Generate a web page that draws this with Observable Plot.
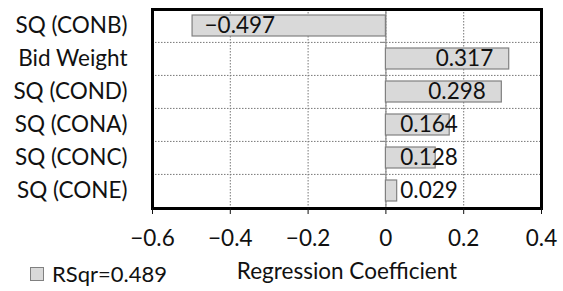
<!DOCTYPE html>
<html>
<head>
<meta charset="utf-8">
<script src="https://cdn.jsdelivr.net/npm/d3@7"></script>
<script src="https://cdn.jsdelivr.net/npm/@observablehq/plot@0.6"></script>
<style>
  html, body { margin: 0; padding: 0; background: #fff; }
  #wrap { position: relative; width: 563px; height: 291px; font-family: Lato, sans-serif; }
  #legend { position: absolute; left: 30px; top: 262px; font-size: 22px; line-height: 24px; display: flex; align-items: center; color: #111; }
  #legend .sw { width: 12px; height: 12px; background: #d9d9d9; border: 1px solid #808080; margin-right: 8px; }
</style>
</head>
<body>
<div id="wrap"></div>
<script>
const categories = ["SQ (CONB)", "Bid Weight", "SQ (COND)", "SQ (CONA)", "SQ (CONC)", "SQ (CONE)"];
const coefficients = [-0.497, 0.317, 0.298, 0.164, 0.128, 0.029];
const xTicks = [-0.6, -0.4, -0.2, 0, 0.2, 0.4];
const xLabel = "Regression Coefficient";
const legendLabel = "RSqr=0.489";

const data = categories.map((c, i) => ({category: c, value: coefficients[i]}));
const fmt = v => (v < 0 ? "\u2212" : "") + Math.abs(v).toFixed(3);
const rowStep = (208 - 9) / categories.length;

const chart = Plot.plot({
  width: 563,
  height: 291,
  marginLeft: 152,
  marginRight: 22,
  marginTop: 9,
  marginBottom: 83,
  style: {fontFamily: "Lato, sans-serif", fontSize: "22.5px", color: "#111"},
  x: {domain: [-0.6, 0.4], ticks: xTicks},
  y: {domain: categories, paddingInner: 0.36, paddingOuter: 0.18},
  marks: [
    Plot.gridX(xTicks, {stroke: "#777", strokeOpacity: 1, strokeDasharray: "1.5,1.5", strokeWidth: 1}),
    Plot.gridY(categories, {dy: -rowStep / 2, stroke: "#777", strokeOpacity: 1, strokeDasharray: "1.5,1.5", strokeWidth: 1}),
    Plot.ruleX([0], {stroke: "#8c8c8c", strokeWidth: 1.2}),
    Plot.ruleY(categories, {y: d => d, x1: 0, x2: -0.014, dy: -rowStep / 2, stroke: "#8c8c8c", strokeWidth: 1.2}),
    Plot.barX(data, {y: "category", x: "value", fill: "#d9d9d9", stroke: "#808080", strokeWidth: 1.2}),
    Plot.text(data.filter(d => d.value < 0), {y: "category", x: "value", text: d => fmt(d.value), textAnchor: "start", dx: 12, fill: "#111"}),
    Plot.text(data.filter(d => d.value >= 0), {y: "category", x: d => Math.max(d.value, 0.226), text: d => fmt(d.value), textAnchor: "end", dx: -16, fill: "#111"}),
    Plot.frame({stroke: "#000", strokeWidth: 3}),
    Plot.axisY({tickSize: 0, tickPadding: 25, label: null}),
    Plot.axisX({ticks: xTicks, tickSize: 6, tickPadding: 16, tickFormat: d => d === 0 ? "0" : (d < 0 ? "\u2212" : "") + Math.abs(d).toFixed(1), label: xLabel, labelAnchor: "center", labelArrow: "none", labelOffset: 70})
  ]
});
const wrap = document.getElementById("wrap");
wrap.appendChild(chart);
const lg = document.createElement("div");
lg.id = "legend";
lg.innerHTML = '<span class="sw"></span><span></span>';
lg.lastChild.textContent = legendLabel;
wrap.appendChild(lg);
</script>
</body>
</html>
